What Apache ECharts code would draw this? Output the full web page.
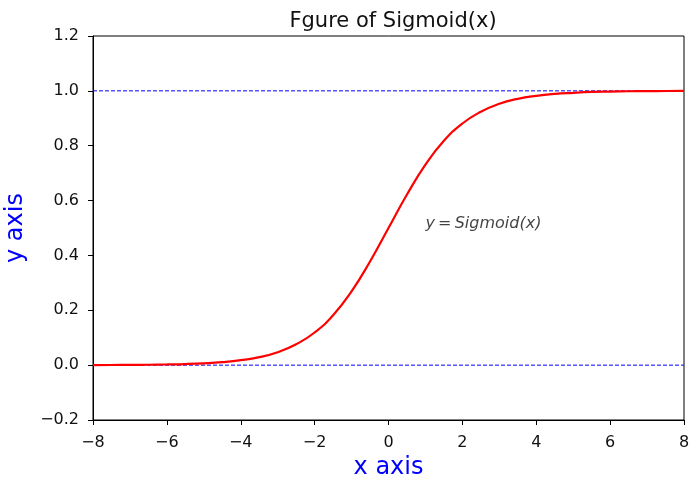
<!DOCTYPE html>
<html>
<head>
<meta charset="utf-8">
<script src="https://cdn.jsdelivr.net/npm/echarts@6/dist/echarts.min.js"></script>
<style>
  html, body { margin: 0; padding: 0; background: #fff; }
  #chart { width: 691px; height: 484px; }
</style>
</head>
<body>
<div id="chart"></div>
<script>
// values
const xs = [-8, -7.5, -7, -6.5, -6, -5.5, -5, -4.5, -4, -3.5, -3, -2.5, -2, -1.5, -1, -0.5,
  0, 0.5, 1, 1.5, 2, 2.5, 3, 3.5, 4, 4.5, 5, 5.5, 6, 6.5, 7, 7.5, 8]
const ys = [0.0003, 0.0006, 0.0009, 0.0015, 0.0025, 0.004, 0.0067, 0.011, 0.018, 0.029, 0.047, 0.076,
  0.119, 0.182, 0.269, 0.378, 0.5, 0.622, 0.731, 0.818, 0.881, 0.924, 0.953, 0.971, 0.982,
  0.989, 0.993, 0.996, 0.9975, 0.9985, 0.999, 0.9994, 0.9997]

const refLevels = [0, 1]
const xRange = [-8, 8]
const yRange = [-0.2, 1.2]
const annotation = { x: 1, y: 0.5, text: 'y\u2009=\u2009Sigmoid(x)' }

const minus = v => String(v).replace('-', '\u2212')

const chart = echarts.init(document.getElementById('chart'))

const refSeries = refLevels.map(lv => ({
  type: 'line',
  data: xRange.map(x => [x, lv]),
  symbol: 'none',
  silent: true,
  lineStyle: { color: '#0000ff', width: 1, type: [4, 2] },
  z: 1
}))

chart.setOption({
  animation: false,
  title: {
    text: 'Fgure of Sigmoid(x)',
    left: 388,
    textAlign: 'center',
    top: 6,
    textStyle: { fontFamily: 'DejaVu Sans', fontSize: 21, fontWeight: 'normal', color: '#111' }
  },
  grid: {
    left: 93, right: 7, top: 36, bottom: 64,
    outerBoundsMode: 'none',
    containLabel: false,
    show: true, borderColor: '#000', borderWidth: 1
  },
  xAxis: {
    type: 'value',
    min: xRange[0], max: xRange[1], interval: 2,
    name: 'x axis',
    nameLocation: 'middle',
    nameGap: 36,
    nameTextStyle: { color: '#0000ff', fontFamily: 'DejaVu Sans', fontSize: 24 },
    axisLine: { show: true, onZero: false, lineStyle: { color: '#000' } },
    axisTick: { show: true, length: 5, lineStyle: { color: '#000' } },
    axisLabel: { color: '#111', fontFamily: 'DejaVu Sans', fontSize: 16, margin: 15, formatter: v => minus(v) },
    splitLine: { show: false }
  },
  yAxis: {
    type: 'value',
    min: yRange[0], max: yRange[1], interval: 0.2,
    name: 'y axis',
    nameLocation: 'middle',
    nameGap: 65,
    nameTextStyle: { color: '#0000ff', fontFamily: 'DejaVu Sans', fontSize: 24 },
    axisLine: { show: true, onZero: false, lineStyle: { color: '#000' } },
    axisTick: { show: true, length: 5, lineStyle: { color: '#000' } },
    axisLabel: { color: '#111', fontFamily: 'DejaVu Sans', fontSize: 16, margin: 14, formatter: v => minus(v.toFixed(1)) },
    splitLine: { show: false }
  },
  series: [
    ...refSeries,
    {
      type: 'line',
      data: xs.map((x, i) => [x, ys[i]]),
      symbol: 'none',
      smooth: true,
      lineStyle: { color: '#ff0000', width: 2.2 },
      z: 3
    },
    {
      type: 'scatter',
      data: [[annotation.x, annotation.y]],
      symbolSize: 0,
      silent: true,
      label: {
        show: true,
        position: 'right',
        distance: 0,
        formatter: annotation.text,
        fontFamily: 'DejaVu Sans',
        fontStyle: 'italic',
        fontSize: 16,
        color: '#111',
        verticalAlign: 'bottom',
        offset: [0, 4]
      }
    }
  ]
})
</script>
</body>
</html>
